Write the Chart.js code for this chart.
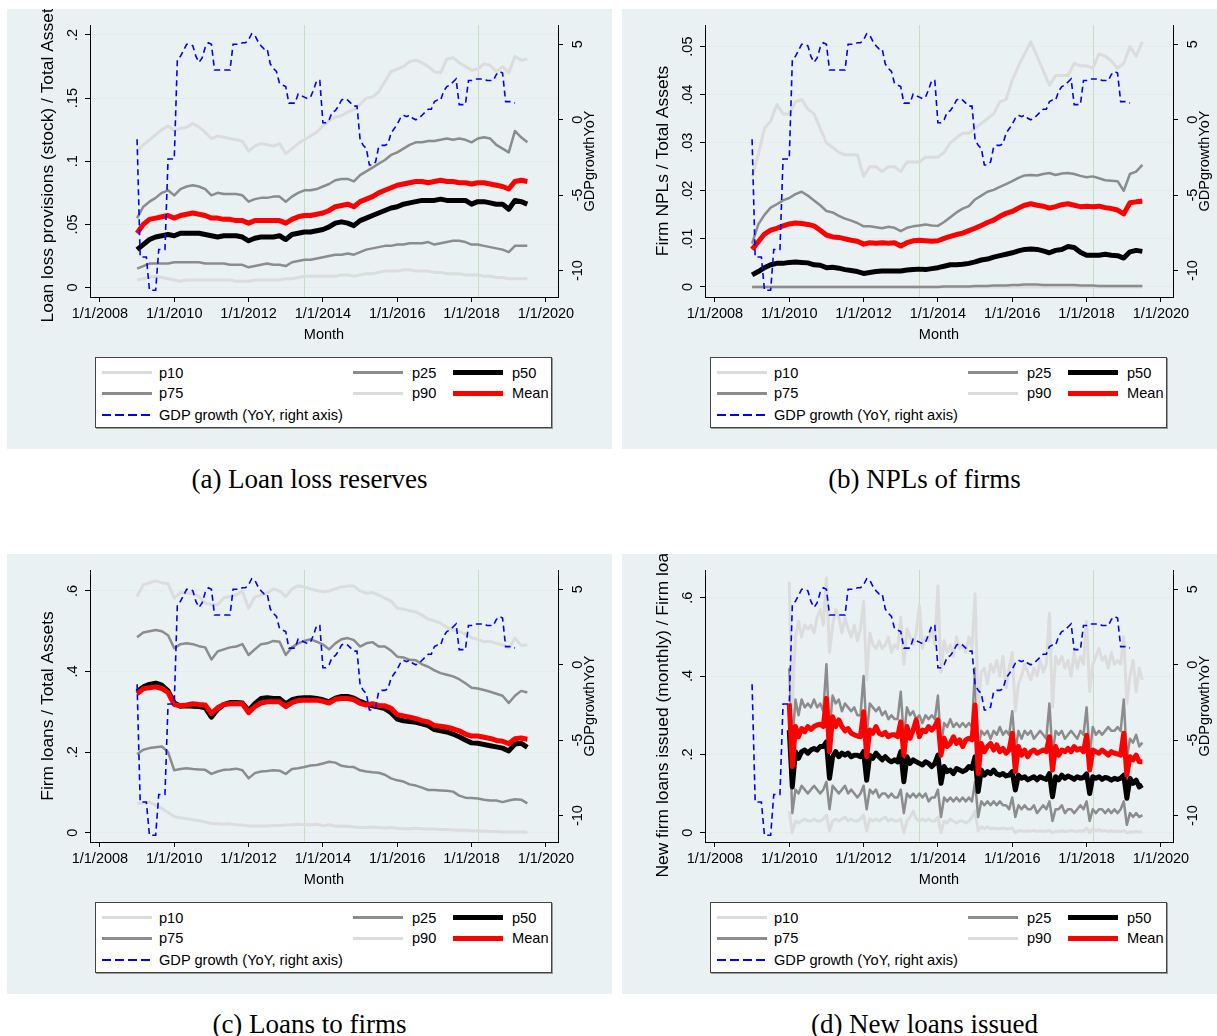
<!DOCTYPE html>
<html>
<head>
<meta charset="utf-8">
<title>Bank balance sheet percentiles</title>
<script src="https://cdn.jsdelivr.net/npm/chart.js@4.4.1/dist/chart.umd.min.js"></script>
<style>
  html, body { margin: 0; padding: 0; background: #fff; }
  body { width: 1217px; height: 1036px; position: relative; overflow: hidden;
         font-family: "Liberation Sans", Arial, sans-serif; }
  .panel { position: absolute; width: 605px; height: 440px; background: #e9f1f3; overflow: hidden; }
  .panel canvas { position: absolute; left: 0; top: 0; }
  .legend { position: absolute; left: 88px; top: 348px; width: 455px; height: 69px;
            background: #fff; border: 1px solid #444; box-shadow: 1px 1px 0 #9a9a9a;
            font-size: 14.6px; color: #000; }
  .swatch { position: absolute; width: 50px; }
  .ltext { position: absolute; line-height: 18px; white-space: nowrap; }
  .caption { position: absolute; width: 605px; text-align: center; line-height: 32px;
             font-family: "Liberation Serif", "Times New Roman", serif; font-size: 27px; color: #000; }
</style>
</head>
<body>
<script>
// months counted from 1/1/2008 (0 = Jan 2008)
const biMonthly = Array.from({ length: 64 }, (_, i) => 12 + 2 * i);   // Jan 2009 .. Jul 2019, every 2nd month
const monthly10 = Array.from({ length: 115 }, (_, i) => 24 + i);      // Jan 2010 .. Jul 2019
const gdpMonths = Array.from({ length: 123 }, (_, i) => 12 + i);      // Jan 2009 .. Mar 2019
const xTickMonths = [0, 24, 48, 72, 96, 120, 144];
const eventMonths = [66, 122];

// GDP growth YoY (right axis), monthly
const gdpGrowth = [
  -1.3, -9.1, -9.1, -9.1, -11.3, -11.3, -11.3, -8.6, -8.6, -8.6, -2.6, -2.6,
  -2.6, 4.0, 4.2, 4.6, 5.0, 5.0, 4.9, 4.2, 3.8, 4.1, 4.8, 5.1,
  5.0, 3.3, 3.3, 3.3, 3.3, 3.3, 3.3, 5.0, 5.0, 5.0, 5.1, 5.1,
  5.3, 5.7, 5.6, 5.2, 4.9, 4.7, 4.7, 3.7, 3.4, 3.2, 2.4, 2.3,
  2.2, 1.1, 1.1, 1.1, 1.7, 1.6, 1.5, 1.4, 1.5, 2.0, 2.6, 2.6,
  -0.2, -0.2, 0.0, 0.5, 0.6, 0.9, 1.3, 1.4, 1.3, 1.1, 0.9, 0.9,
  -1.3, -1.7, -1.9, -3.0, -3.0, -2.8, -1.8, -1.7, -1.7, -1.6, -0.9, -0.6,
  -0.3, 0.1, 0.3, 0.2, 0.3, 0.1, 0.0, 0.1, 0.3, 0.5, 0.7, 0.7,
  1.2, 1.3, 1.3, 1.9, 2.2, 2.3, 2.5, 2.7, 1.0, 1.0, 1.0, 2.6,
  2.6, 2.7, 2.7, 2.7, 2.7, 2.6, 2.6, 2.6, 3.0, 3.2, 3.1, 1.2,
  1.2, 1.2, 1.1
];

// (a) Loan loss provisions (stock) / total assets, every 2nd month
const llrP10 = [
  .006, .007, .008, .009, .008, .007, .006, .005,
  .006, .006, .006, .006, .006, .006, .006, .006,
  .005, .005, .005, .006, .006, .006, .006, .006,
  .007, .007, .008, .009, .009, .009, .009, .009,
  .009, .010, .010, .009, .010, .011, .011, .012,
  .013, .013, .013, .014, .014, .013, .013, .013,
  .012, .012, .011, .011, .011, .010, .010, .010,
  .009, .009, .008, .008, .007, .007, .007, .007
];
const llrP25 = [
  .015, .017, .019, .019, .019, .019, .020, .020,
  .020, .020, .020, .019, .019, .019, .019, .018,
  .018, .018, .016, .017, .018, .019, .018, .018,
  .017, .020, .021, .022, .022, .023, .024, .025,
  .026, .026, .027, .026, .028, .030, .031, .032,
  .033, .033, .034, .034, .035, .035, .035, .036,
  .034, .035, .036, .037, .037, .036, .034, .034,
  .033, .032, .031, .030, .028, .033, .033, .033
];
const llrP50 = [
  .030, .034, .038, .040, .041, .042, .041, .043,
  .043, .043, .043, .042, .041, .040, .041, .041,
  .041, .040, .037, .039, .040, .040, .040, .041,
  .038, .042, .043, .044, .044, .045, .046, .048,
  .051, .052, .051, .049, .053, .055, .057, .059,
  .061, .063, .064, .066, .067, .068, .069, .069,
  .069, .070, .069, .069, .069, .069, .066, .068,
  .068, .067, .066, .066, .062, .069, .068, .066
];
const llrP75 = [
  .055, .064, .068, .071, .075, .077, .073, .078,
  .080, .081, .080, .078, .073, .075, .074, .074,
  .074, .073, .068, .070, .071, .071, .072, .072,
  .068, .072, .075, .077, .077, .078, .080, .082,
  .085, .086, .086, .084, .089, .092, .095, .098,
  .101, .105, .107, .110, .113, .115, .115, .116,
  .116, .117, .118, .117, .118, .117, .115, .118,
  .119, .118, .113, .110, .107, .124, .119, .115
];
const llrP90 = [
  .108, .113, .117, .121, .125, .128, .124, .126,
  .127, .130, .127, .123, .118, .120, .119, .118,
  .117, .116, .108, .112, .114, .113, .112, .114,
  .106, .110, .114, .117, .120, .123, .128, .132,
  .135, .136, .139, .141, .145, .150, .151, .155,
  .163, .171, .173, .175, .179, .180, .178, .175,
  .171, .170, .181, .182, .178, .175, .172, .173,
  .177, .176, .171, .175, .170, .183, .180, .181
];
const llrMean = [
  .043, .050, .054, .055, .056, .057, .055, .057,
  .058, .059, .058, .057, .055, .055, .054, .054,
  .053, .053, .051, .053, .053, .053, .053, .053,
  .051, .054, .056, .057, .057, .058, .059, .061,
  .064, .065, .066, .064, .068, .070, .072, .075,
  .077, .079, .081, .082, .083, .084, .084, .083,
  .084, .085, .084, .084, .083, .083, .082, .083,
  .083, .082, .081, .080, .078, .084, .085, .084
];

// (b) Firm NPLs / total assets, every 2nd month
const nplP10 = [
  0, 0, 0, 0, 0, 0, 0, 0,
  0, 0, 0, 0, 0, 0, 0, 0,
  0, 0, 0, 0, 0, 0, 0, 0,
  0, 0, 0, 0, 0, 0, 0, 0,
  0, 0, 0, 0, 0, 0, 0, 0,
  0, 0, 0, 0, 0, 0, 0, 0,
  0, 0, 0, 0, 0, 0, 0, 0,
  0, 0, 0, 0, 0, 0, 0, 0
];
const nplP25 = [
  0, 0, 0, 0, 0, 0, 0, 0,
  0, 0, 0, 0, 0, 0, 0, 0,
  0, 0, 0, 0, 0, 0, 0, 0,
  0, 0, 0, 0, 0, 0, 0, .0001,
  .0001, .0001, .0001, .0001, .0002, .0002, .0002, .0003,
  .0003, .0003, .0004, .0004, .0005, .0005, .0005, .0004,
  .0004, .0004, .0004, .0004, .0004, .0003, .0003, .0003,
  .0002, .0002, .0002, .0002, .0002, .0002, .0002, .0002
];
const nplP50 = [
  .0025, .0032, .0040, .0046, .0049, .0049, .0051, .0052,
  .0051, .0050, .0046, .0045, .0040, .0041, .0039, .0036,
  .0034, .0032, .0028, .0030, .0032, .0033, .0033, .0033,
  .0033, .0035, .0036, .0037, .0036, .0038, .0040, .0043,
  .0046, .0046, .0047, .0049, .0052, .0056, .0058, .0062,
  .0065, .0068, .0071, .0075, .0078, .0079, .0078, .0075,
  .0071, .0076, .0078, .0084, .0082, .0072, .0066, .0066,
  .0066, .0068, .0066, .0065, .0060, .0073, .0076, .0074
];
const nplP75 = [
  .0090, .0130, .0150, .0165, .0172, .0180, .0185, .0193,
  .0198, .0190, .0180, .0170, .0158, .0155, .0148, .0142,
  .0138, .0133, .0126, .0126, .0124, .0122, .0125, .0123,
  .0116, .0123, .0126, .0128, .0130, .0128, .0127, .0135,
  .0145, .0155, .0163, .0168, .0182, .0190, .0198, .0202,
  .0208, .0214, .0220, .0227, .0232, .0233, .0232, .0235,
  .0237, .0233, .0236, .0237, .0235, .0231, .0228, .0230,
  .0226, .0222, .0221, .0220, .0200, .0235, .0240, .0254
];
const nplP90 = [
  .0230, .0275, .0330, .0345, .0380, .0360, .0360, .0385,
  .0390, .0370, .0360, .0330, .0300, .0290, .0280, .0275,
  .0275, .0275, .0230, .0250, .0250, .0240, .0250, .0250,
  .0240, .0260, .0260, .0260, .0270, .0270, .0270, .0280,
  .0300, .0310, .0320, .0320, .0330, .0340, .0350, .0360,
  .0385, .0390, .0430, .0460, .0485, .0510, .0480, .0450,
  .0420, .0440, .0440, .0440, .0465, .0460, .0460, .0455,
  .0485, .0480, .0470, .0455, .0465, .0500, .0480, .0510
];
const nplMean = [
  .0078, .0094, .0110, .0118, .0122, .0127, .0131, .0133,
  .0132, .0130, .0127, .0118, .0108, .0104, .0103, .0100,
  .0097, .0095, .0089, .0092, .0091, .0092, .0091, .0092,
  .0085, .0092, .0096, .0097, .0096, .0095, .0096, .0101,
  .0105, .0109, .0112, .0117, .0122, .0128, .0134, .0139,
  .0147, .0153, .0157, .0164, .0170, .0173, .0170, .0168,
  .0164, .0167, .0171, .0173, .0170, .0167, .0168, .0167,
  .0168, .0165, .0163, .0160, .0152, .0175, .0177, .0178
];

// (c) Firm loans / total assets, every 2nd month
const flP10 = [
  .073, .074, .076, .068, .060, .050, .040, .037,
  .035, .032, .030, .027, .023, .022, .021, .022,
  .020, .019, .017, .017, .017, .017, .018, .018,
  .019, .020, .021, .020, .020, .021, .017, .020,
  .016, .016, .016, .014, .013, .013, .014, .013,
  .012, .013, .011, .010, .010, .011, .010, .009,
  .009, .008, .008, .007, .006, .006, .005, .005,
  .004, .003, .003, .002, .002, .002, .002, .001
];
const flP25 = [
  .195, .206, .210, .212, .214, .200, .155, .158,
  .160, .158, .157, .156, .146, .152, .156, .157,
  .159, .155, .135, .148, .152, .153, .155, .154,
  .146, .158, .160, .163, .167, .168, .172, .176,
  .174, .166, .164, .163, .155, .152, .150, .149,
  .144, .135, .130, .127, .120, .117, .112, .106,
  .106, .105, .104, .102, .092, .087, .086, .085,
  .082, .080, .080, .076, .080, .083, .082, .073
];
const flP50 = [
  .350, .362, .368, .371, .366, .352, .322, .314,
  .315, .314, .313, .310, .287, .306, .318, .323,
  .323, .322, .303, .320, .333, .335, .333, .333,
  .320, .330, .334, .335, .335, .333, .330, .325,
  .334, .338, .338, .334, .326, .320, .315, .312,
  .308, .298, .282, .278, .276, .274, .270, .266,
  .256, .253, .250, .245, .238, .230, .223, .222,
  .219, .216, .213, .210, .203, .220, .222, .212
];
const flP75 = [
  .485, .497, .500, .503, .500, .490, .458, .468,
  .470, .468, .463, .460, .430, .450, .455, .460,
  .462, .468, .441, .455, .468, .470, .476, .474,
  .441, .460, .470, .476, .480, .474, .467, .455,
  .470, .480, .483, .478, .462, .470, .473, .462,
  .462, .452, .437, .435, .429, .428, .418, .412,
  .403, .396, .392, .388, .381, .371, .360, .358,
  .354, .350, .345, .340, .322, .340, .352, .348
];
const flP90 = [
  .586, .615, .620, .625, .620, .618, .582, .596,
  .594, .594, .586, .570, .566, .566, .583, .586,
  .590, .600, .557, .585, .590, .595, .605, .600,
  .586, .605, .613, .610, .605, .601, .598, .600,
  .605, .610, .612, .612, .600, .594, .596, .590,
  .582, .575, .557, .555, .551, .548, .540, .530,
  .526, .520, .510, .503, .500, .493, .484, .480,
  .474, .475, .470, .466, .458, .483, .465, .466
];
const flMean = [
  .345, .357, .360, .362, .358, .348, .318, .315,
  .317, .320, .318, .317, .296, .310, .318, .320,
  .321, .320, .298, .313, .322, .325, .325, .325,
  .313, .323, .328, .329, .329, .329, .326, .322,
  .331, .333, .333, .330, .321, .317, .320, .316,
  .315, .309, .293, .290, .287, .283, .278, .275,
  .266, .264, .262, .258, .253, .245, .240, .240,
  .237, .234, .229, .227, .221, .233, .235, .232
];

// (d) New firm loans issued (monthly) / firm loans, monthly from Jan 2010
const nlP10 = [
  .055, 0, .03, .025, .03, .035, .03, .03, .035, .03, .03, .035,
  .045, .005, .03, .035, .03, .035, .04, .03, .035, .03, .03, .035,
  .045, .005, .035, .03, .035, .03, .035, .04, .03, .035, .03, .03,
  .035, 0, .03, .04, .055, .035, .03, .035, .03, .035, .03, .03,
  .04, 0, .03, .025, .035, .03, .025, .03, .03, .025, .03, .04,
  .055, .005, .015, .01, .015, .01, .012, .01, .01, .012, .01, .01,
  .012, 0, .005, .005, .003, .005, .004, .006, .003, .005, .004, .004,
  .006, 0, .004, .003, .005, .003, .004, .006, .004, .003, .005, .004,
  .012, 0, .01, .005, .008, .004, .006, .003, .005, .003, .004, .003,
  .006, 0, .002, .002, .003, .002, .002
];
const nlP25 = [
  .25, .05, .11, .10, .12, .11, .10, .11, .12, .11, .10, .11,
  .13, .06, .12, .11, .10, .11, .12, .10, .11, .10, .09, .10,
  .12, .06, .11, .10, .11, .09, .10, .10, .09, .10, .09, .09,
  .11, .05, .10, .09, .10, .09, .10, .09, .10, .08, .09, .09,
  .11, .04, .09, .08, .09, .08, .09, .08, .09, .08, .09, .08,
  .13, .04, .08, .07, .08, .07, .08, .07, .08, .07, .07, .06,
  .09, .04, .07, .06, .07, .06, .06, .07, .05, .06, .07, .06,
  .08, .03, .06, .06, .07, .05, .06, .06, .05, .06, .07, .06,
  .08, .03, .06, .05, .06, .06, .05, .06, .05, .06, .05, .06,
  .08, .02, .05, .04, .05, .04, .045
];
const nlP50 = [
  .262, .117, .207, .190, .207, .211, .203, .211, .215, .211, .220, .220,
  .232, .139, .194, .207, .194, .203, .198, .203, .194, .198, .198, .194,
  .207, .134, .198, .190, .203, .194, .186, .194, .186, .181, .186, .181,
  .207, .130, .194, .177, .186, .181, .177, .173, .181, .177, .169, .177,
  .198, .126, .169, .156, .160, .151, .164, .160, .156, .160, .169, .164,
  .194, .105, .160, .147, .156, .151, .160, .150, .147, .151, .145, .147,
  .156, .109, .147, .139, .143, .135, .139, .143, .135, .143, .139, .136,
  .151, .092, .143, .135, .147, .139, .145, .141, .136, .143, .139, .141,
  .150, .100, .143, .139, .143, .136, .141, .139, .134, .139, .136, .139,
  .147, .088, .139, .126, .134, .117, .122
];
const nlP75 = [
  .42, .23, .34, .30, .34, .32, .33, .32, .34, .32, .33, .31,
  .43, .26, .35, .33, .34, .31, .33, .32, .31, .32, .30, .30,
  .40, .25, .33, .32, .31, .32, .30, .31, .29, .30, .29, .29,
  .36, .24, .32, .30, .31, .29, .30, .28, .30, .29, .30, .29,
  .35, .22, .28, .27, .29, .27, .28, .27, .28, .27, .28, .27,
  .42, .21, .26, .25, .26, .24, .26, .25, .27, .25, .26, .25,
  .31, .21, .26, .24, .26, .25, .26, .24, .25, .26, .25, .24,
  .33, .20, .26, .25, .26, .24, .25, .26, .25, .24, .26, .25,
  .32, .20, .27, .25, .26, .25, .26, .27, .26, .26, .27, .26,
  .34, .19, .24, .23, .25, .22, .23
];
const nlP90 = [
  .64, .33, .50, .54, .50, .53, .52, .53, .51, .55, .57, .53,
  .65, .46, .53, .57, .55, .51, .55, .52, .50, .53, .49, .52,
  .59, .39, .51, .48, .47, .49, .47, .48, .50, .46, .48, .47,
  .55, .43, .52, .50, .48, .51, .58, .47, .50, .49, .52, .48,
  .63, .41, .49, .46, .48, .45, .50, .47, .48, .46, .50, .47,
  .61, .31, .41, .42, .38, .43, .41, .44, .40, .45, .37, .42,
  .46, .31, .38, .40, .43, .41, .39, .42, .40, .44, .41, .43,
  .56, .32, .45, .43, .45, .42, .44, .40, .46, .42, .45, .43,
  .54, .36, .43, .45, .47, .44, .45, .42, .46, .43, .44, .43,
  .50, .33, .40, .44, .36, .42, .39
];
const nlMean = [
  .330, .169, .271, .245, .266, .258, .271, .264, .271, .275, .277, .271,
  .343, .207, .296, .271, .288, .271, .260, .266, .254, .250, .247, .245,
  .309, .194, .262, .254, .271, .254, .250, .256, .245, .250, .250, .245,
  .283, .198, .271, .241, .262, .288, .245, .262, .258, .271, .262, .271,
  .288, .198, .241, .220, .228, .245, .228, .237, .220, .237, .241, .237,
  .326, .151, .228, .207, .220, .228, .211, .224, .207, .215, .203, .211,
  .254, .156, .220, .198, .211, .194, .207, .211, .203, .207, .211, .207,
  .245, .160, .220, .198, .211, .207, .215, .207, .220, .211, .215, .207,
  .249, .160, .211, .207, .203, .211, .205, .198, .207, .203, .201, .198,
  .254, .147, .194, .186, .198, .181, .181
];

const seriesStyle = [
  { label: 'p10', color: '#dcdcdc', width: 3, order: 6 },
  { label: 'p25', color: '#8c8c8c', width: 2.5, order: 5 },
  { label: 'p50', color: '#000000', width: 5, order: 4 },
  { label: 'p75', color: '#8c8c8c', width: 2.5, order: 3 },
  { label: 'p90', color: '#dcdcdc', width: 3, order: 2 },
  { label: 'Mean', color: '#ff0000', width: 5, order: 1 }
];

const panels = [
  { left: 7, top: 9, caption: '(a) Loan loss reserves',
    title: 'Loan loss provisions (stock) / Total Assets',
    yMin: -0.0075, yMax: 0.2079, yTicks: [0, .05, .1, .15, .2], xs: biMonthly,
    series: [llrP10, llrP25, llrP50, llrP75, llrP90, llrMean] },
  { left: 622, top: 9, caption: '(b) NPLs of firms',
    title: 'Firm NPLs / Total Assets',
    yMin: -0.0021, yMax: 0.0545, yTicks: [0, .01, .02, .03, .04, .05], xs: biMonthly,
    series: [nplP10, nplP25, nplP50, nplP75, nplP90, nplMean] },
  { left: 7, top: 554, caption: '(c) Loans to firms',
    title: 'Firm loans / Total Assets',
    yMin: -0.023, yMax: 0.652, yTicks: [0, .2, .4, .6], xs: biMonthly,
    series: [flP10, flP25, flP50, flP75, flP90, flMean] },
  { left: 622, top: 554, caption: '(d) New loans issued',
    title: 'New firm loans issued (monthly) / Firm loans',
    yMin: -0.0237, yMax: 0.6707, yTicks: [0, .2, .4, .6], xs: monthly10,
    series: [nlP10, nlP25, nlP50, nlP75, nlP90, nlMean] }
];

const legendItems = [
  { label: 'p10', col: 0, row: 0, color: '#dcdcdc', width: 3 },
  { label: 'p25', col: 1, row: 0, color: '#8c8c8c', width: 3 },
  { label: 'p50', col: 2, row: 0, color: '#000000', width: 5 },
  { label: 'p75', col: 0, row: 1, color: '#8c8c8c', width: 3 },
  { label: 'p90', col: 1, row: 1, color: '#dcdcdc', width: 3 },
  { label: 'Mean', col: 2, row: 1, color: '#ff0000', width: 5 },
  { label: 'GDP growth (YoY, right axis)', col: 0, row: 2, color: '#0000ff', width: 2, dash: true }
];
const legendCols = [{ sw: 6, tx: 63 }, { sw: 257, tx: 316 }, { sw: 357, tx: 416 }];
const legendRows = [14.5, 35, 56.5];

const FONT = '"Liberation Sans", Arial, sans-serif';
Chart.defaults.font.family = FONT;
Chart.defaults.color = '#000';

function stataNum(v) {
  const s = String(+v.toFixed(4));
  return s.replace(/^(-?)0\./, '$1.');
}

function points(xs, ys) {
  return ys.map((y, i) => ({ x: xs[i], y: y }));
}

const stataAxes = {
  id: 'stataAxes',
  beforeDatasetsDraw(chart) {
    const { ctx, chartArea: a, scales: { x } } = chart;
    ctx.save();
    ctx.strokeStyle = '#c4dfbd';
    ctx.lineWidth = 1;
    eventMonths.forEach(m => {
      const px = Math.round(x.getPixelForValue(m)) + 0.5;
      ctx.beginPath();
      ctx.moveTo(px, a.top);
      ctx.lineTo(px, a.bottom);
      ctx.stroke();
    });
    ctx.restore();
  },
  afterDraw(chart, args, opts) {
    const { ctx, chartArea: a, scales: { y, y2 } } = chart;
    const midY = (a.top + a.bottom) / 2;
    ctx.save();
    ctx.fillStyle = '#000';
    ctx.font = '14.5px ' + FONT;
    ctx.textAlign = 'center';
    // left tick labels, rotated
    ctx.textBaseline = 'alphabetic';
    y.ticks.forEach(t => {
      ctx.save();
      ctx.translate(a.left - 13, y.getPixelForValue(t.value));
      ctx.rotate(-Math.PI / 2);
      ctx.fillText(stataNum(t.value), 0, 0);
      ctx.restore();
    });
    // right tick labels, rotated
    ctx.textBaseline = 'top';
    y2.ticks.forEach(t => {
      ctx.save();
      ctx.translate(a.right + 13, y2.getPixelForValue(t.value));
      ctx.rotate(-Math.PI / 2);
      ctx.fillText(stataNum(t.value), 0, 0);
      ctx.restore();
    });
    // right title
    ctx.textBaseline = 'middle';
    ctx.save();
    ctx.translate(582.5, midY);
    ctx.rotate(-Math.PI / 2);
    ctx.fillText('GDPgrowthYoY', 0, 0);
    ctx.restore();
    // left title
    ctx.font = '17.4px ' + FONT;
    ctx.save();
    ctx.translate(41.5, midY);
    ctx.rotate(-Math.PI / 2);
    ctx.fillText(opts.title, 0, 0);
    ctx.restore();
    ctx.restore();
  }
};

function buildLegend(panelEl) {
  const box = document.createElement('div');
  box.className = 'legend';
  legendItems.forEach(it => {
    const sw = document.createElement('div');
    sw.className = 'swatch';
    sw.style.left = legendCols[it.col].sw + 'px';
    sw.style.top = (legendRows[it.row] - it.width / 2) + 'px';
    sw.style.height = it.width + 'px';
    sw.style.background = it.dash
      ? 'repeating-linear-gradient(to right, ' + it.color + ' 0 9px, transparent 9px 13px)'
      : it.color;
    const tx = document.createElement('div');
    tx.className = 'ltext';
    tx.textContent = it.label;
    tx.style.left = legendCols[it.col].tx + 'px';
    tx.style.top = (legendRows[it.row] - 9) + 'px';
    box.append(sw, tx);
  });
  panelEl.appendChild(box);
}

panels.forEach(p => {
  const panel = document.createElement('div');
  panel.className = 'panel';
  panel.style.left = p.left + 'px';
  panel.style.top = p.top + 'px';
  const canvas = document.createElement('canvas');
  canvas.width = 605;
  canvas.height = 345;
  canvas.style.width = '605px';
  canvas.style.height = '345px';
  panel.appendChild(canvas);
  buildLegend(panel);
  document.body.appendChild(panel);

  const cap = document.createElement('div');
  cap.className = 'caption';
  cap.style.left = p.left + 'px';
  cap.style.top = (p.top + 454) + 'px';
  cap.textContent = p.caption;
  document.body.appendChild(cap);

  const datasets = p.series.map((ys, i) => ({
    label: seriesStyle[i].label,
    data: points(p.xs, ys),
    borderColor: seriesStyle[i].color,
    borderWidth: seriesStyle[i].width,
    order: seriesStyle[i].order,
    yAxisID: 'y',
    pointRadius: 0,
    borderJoinStyle: 'round',
    tension: 0
  }));
  datasets.push({
    label: 'GDP growth (YoY, right axis)',
    data: points(gdpMonths, gdpGrowth),
    borderColor: '#0000ff',
    borderWidth: 1.6,
    borderDash: [6, 4],
    order: 0,
    yAxisID: 'y2',
    pointRadius: 0,
    tension: 0
  });

  new Chart(canvas, {
    type: 'line',
    data: { datasets: datasets },
    options: {
      responsive: false,
      animation: false,
      layout: { padding: { top: 16, left: 0, right: 0, bottom: 0 } },
      plugins: {
        legend: { display: false },
        tooltip: { enabled: false },
        stataAxes: { title: p.title }
      },
      scales: {
        x: {
          type: 'linear',
          min: -3.2,
          max: 147.9,
          afterBuildTicks: s => { s.ticks = xTickMonths.map(v => ({ value: v })); },
          afterFit: s => { s.height = 57; },
          grid: { drawOnChartArea: false, tickLength: 5, tickColor: '#000' },
          border: { display: true, color: '#000', width: 1 },
          ticks: {
            autoSkip: false, maxRotation: 0, padding: 3,
            font: { size: 14.5 }, color: '#000',
            callback: v => '1/1/' + (2008 + v / 12)
          },
          title: { display: true, text: 'Month', font: { size: 14.5 }, color: '#000',
                   padding: { top: 0, bottom: 10 } }
        },
        y: {
          position: 'left',
          min: p.yMin,
          max: p.yMax,
          afterBuildTicks: s => { s.ticks = p.yTicks.map(v => ({ value: v })); },
          afterFit: s => { s.width = 83; },
          grid: { color: '#e3ecef', lineWidth: 1, tickLength: 5, tickColor: '#000' },
          border: { display: true, color: '#000', width: 1 },
          ticks: { display: false }
        },
        y2: {
          position: 'right',
          min: -11.75,
          max: 6.28,
          afterBuildTicks: s => { s.ticks = [-10, -5, 0, 5].map(v => ({ value: v })); },
          afterFit: s => { s.width = 54; },
          grid: { drawOnChartArea: false, tickLength: 5, tickColor: '#000' },
          border: { display: true, color: '#000', width: 1 },
          ticks: { display: false }
        }
      }
    },
    plugins: [stataAxes]
  });
});
</script>
</body>
</html>
